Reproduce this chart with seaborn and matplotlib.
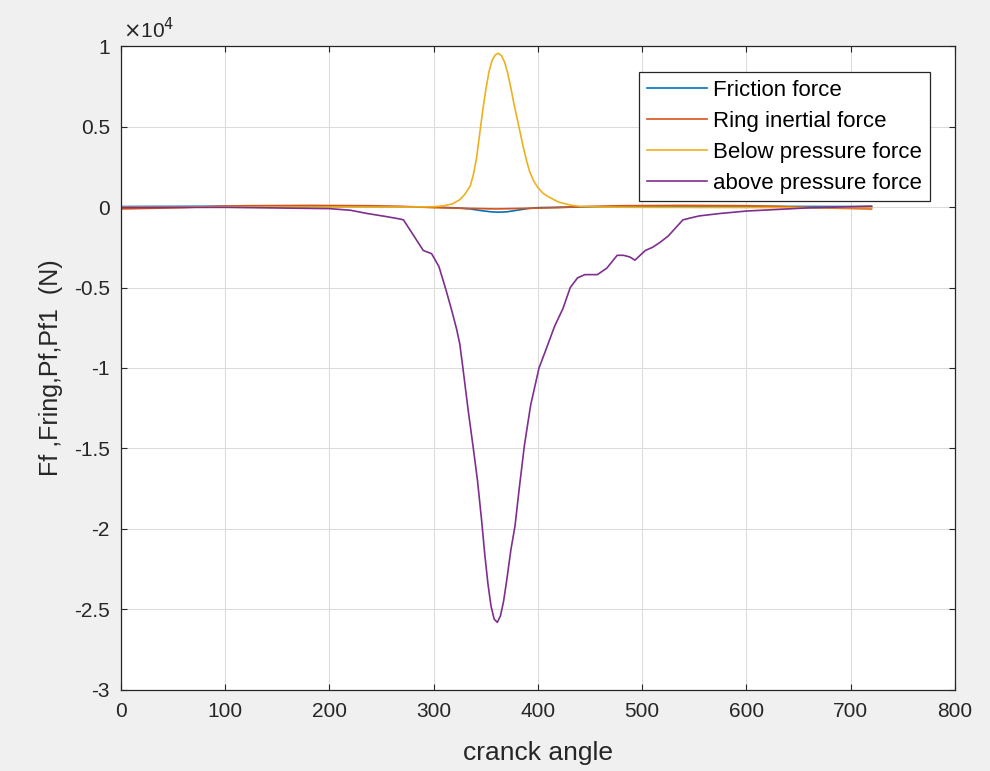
import seaborn as sns
import pandas as pd
import matplotlib.pyplot as plt
from matplotlib.ticker import FuncFormatter

# crank angle points and forces (N)
fric_x = [0, 100, 200, 300, 320, 335, 345, 355, 362, 370, 380, 390, 400, 430, 500, 600, 720]
fric_y = [30, 50, 40, 0, -50, -120, -220, -300, -320, -300, -200, -100, -40, 0, 30, 40, 30]

ring_x = [0, 60, 90, 120, 180, 240, 270, 300, 360, 420, 450, 480, 540, 600, 630, 660, 720]
ring_y = [-120, -40, 40, 80, 100, 80, 40, -40, -120, -40, 40, 80, 100, 80, 40, -40, -120]

below_x = [0, 100, 200, 280, 300, 310, 318, 325, 330, 335, 338, 341, 344, 347, 350, 353, 356,
           359, 362, 365, 368, 371, 374, 377, 380, 383, 386, 389, 392, 396, 400, 405, 411,
           420, 431, 440, 460, 500, 600, 720]
below_y = [0, 0, 0, 0, 20, 80, 200, 450, 800, 1300, 2000, 3000, 4500, 6000, 7300, 8400, 9100,
           9450, 9550, 9400, 9000, 8300, 7400, 6400, 5500, 4600, 3700, 2900, 2200, 1600, 1200,
           850, 600, 300, 120, 40, 0, -20, -30, -40]

above_x = [0, 100, 150, 200, 220, 236, 255, 268, 271, 280, 290, 298, 305, 312, 318, 322, 325,
           328, 333, 338, 342, 346, 349, 352, 355, 358, 361, 364, 367, 370, 374, 378, 382,
           387, 393, 401, 408, 416, 424, 431, 438, 445, 452, 457, 466, 471, 476, 482, 488,
           493, 498, 503, 510, 517, 525, 532, 539, 545, 555, 575, 600, 630, 660, 690, 720]
above_y = [-30, -20, -60, -100, -200, -400, -600, -750, -800, -1700, -2700, -2900, -3700, -5200,
           -6600, -7600, -8500, -10000, -12600, -15000, -17000, -19500, -21600, -23400, -24800,
           -25600, -25800, -25400, -24500, -23200, -21300, -19800, -17500, -14800, -12300,
           -10000, -8800, -7400, -6300, -5000, -4400, -4200, -4200, -4200, -3800, -3400, -3000,
           -3000, -3100, -3300, -3000, -2700, -2500, -2200, -1800, -1300, -800, -700, -550,
           -400, -250, -150, -50, 0, 50]

labels = ['Friction force', 'Ring inertial force', 'Below pressure force', 'above pressure force']
colors = ['#0072BD', '#D95319', '#EDB120', '#7E2F8E']

plt.rcParams['font.family'] = ['Liberation Sans', 'DejaVu Sans']
plt.rcParams['axes.unicode_minus'] = False

fig = plt.figure(figsize=(9.9, 7.71), dpi=100, facecolor='#f0f0f0')
ax = fig.add_axes([0.1222, 0.1051, 0.8424, 0.8352])
ax.set_facecolor('white')

series = [(fric_x, fric_y), (ring_x, ring_y), (below_x, below_y), (above_x, above_y)]
for (xs, ys), lab, col in zip(series, labels, colors):
    df = pd.DataFrame({'angle': xs, 'force': ys})
    sns.lineplot(data=df, x='angle', y='force', ax=ax, color=col, label=lab,
                 linewidth=1.2, estimator=None, sort=False)

ax.set_xlim(0, 800)
ax.set_ylim(-30000, 10000)
ax.set_xticks(range(0, 801, 100))
ax.set_yticks([-30000, -25000, -20000, -15000, -10000, -5000, 0, 5000, 10000])
ax.yaxis.set_major_formatter(FuncFormatter(lambda v, p: '%g' % (v / 1e4)))

ax.grid(True, color='#dcdcdc', linewidth=0.8)
ax.set_axisbelow(True)
ax.tick_params(direction='in', top=True, right=True, length=4, width=0.8,
               labelsize=15, colors='#262626')
ax.tick_params(axis='x', pad=9)
ax.tick_params(axis='y', pad=8)
for s in ax.spines.values():
    s.set_color('#262626')
    s.set_linewidth(0.9)

ax.set_xlabel('cranck angle', fontsize=19, color='#262626', labelpad=14)
ax.set_ylabel('Ff ,Fring,Pf,Pf1  (N)', fontsize=18, color='#262626', labelpad=8)
ax.text(0.003, 1.006, r'$\times$10$^4$', transform=ax.transAxes, fontsize=15,
        color='#262626', ha='left', va='bottom')

leg = ax.legend(loc='upper right', bbox_to_anchor=(0.970, 0.960), borderaxespad=0,
                fontsize=16, frameon=True, fancybox=False, handlelength=2.7,
                handletextpad=0.3, labelspacing=0.45, borderpad=0.35)
leg.get_frame().set_edgecolor('#262626')
leg.get_frame().set_linewidth(0.9)
leg.get_frame().set_alpha(1)

fig.savefig('out.png', dpi=100, facecolor=fig.get_facecolor())
